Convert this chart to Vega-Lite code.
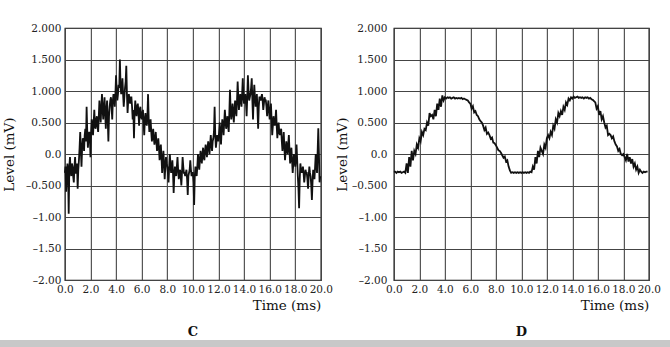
{
  "$schema": "https://vega.github.io/schema/vega-lite/v6.json",
  "padding": {"left": 0, "top": 22, "right": 0, "bottom": 0},
  "background": "white",
  "datasets": {
    "C": [
      {"t":0.0,"v":-0.3},{"t":0.1,"v":-0.6},{"t":0.2,"v":-0.15},{"t":0.3,"v":-0.95},{"t":0.4,"v":-0.05},{"t":0.5,"v":-0.35},{"t":0.6,"v":-0.2},{"t":0.7,"v":-0.45},{"t":0.8,"v":-0.05},{"t":0.9,"v":-0.3},
      {"t":1.0,"v":-0.55},{"t":1.1,"v":-0.1},{"t":1.2,"v":0.35},{"t":1.3,"v":-0.2},{"t":1.4,"v":0.25},{"t":1.5,"v":0.05},{"t":1.6,"v":0.4},{"t":1.7,"v":0.75},{"t":1.8,"v":0.1},{"t":1.9,"v":0.35},
      {"t":2.0,"v":-0.05},{"t":2.1,"v":0.55},{"t":2.2,"v":0.3},{"t":2.3,"v":0.7},{"t":2.4,"v":0.4},{"t":2.5,"v":0.6},{"t":2.6,"v":0.35},{"t":2.7,"v":0.85},{"t":2.8,"v":0.5},{"t":2.9,"v":0.95},
      {"t":3.0,"v":0.55},{"t":3.1,"v":0.9},{"t":3.2,"v":0.4},{"t":3.3,"v":0.85},{"t":3.4,"v":0.2},{"t":3.5,"v":0.75},{"t":3.6,"v":0.9},{"t":3.7,"v":0.55},{"t":3.8,"v":0.95},{"t":3.9,"v":0.75},
      {"t":4.0,"v":1.25},{"t":4.1,"v":0.85},{"t":4.2,"v":1.1},{"t":4.3,"v":1.5},{"t":4.4,"v":0.95},{"t":4.5,"v":1.2},{"t":4.6,"v":0.75},{"t":4.7,"v":1.05},{"t":4.8,"v":1.4},{"t":4.9,"v":0.65},
      {"t":5.0,"v":0.95},{"t":5.1,"v":0.8},{"t":5.2,"v":0.9},{"t":5.3,"v":0.55},{"t":5.4,"v":0.25},{"t":5.5,"v":0.85},{"t":5.6,"v":0.6},{"t":5.7,"v":0.8},{"t":5.8,"v":0.45},{"t":5.9,"v":0.75},
      {"t":6.0,"v":0.55},{"t":6.1,"v":0.7},{"t":6.2,"v":0.3},{"t":6.3,"v":0.65},{"t":6.4,"v":0.45},{"t":6.5,"v":0.95},{"t":6.6,"v":0.35},{"t":6.7,"v":0.55},{"t":6.8,"v":0.2},{"t":6.9,"v":0.4},
      {"t":7.0,"v":0.15},{"t":7.1,"v":0.35},{"t":7.2,"v":0.05},{"t":7.3,"v":0.25},{"t":7.4,"v":-0.1},{"t":7.5,"v":0.15},{"t":7.6,"v":-0.3},{"t":7.7,"v":0.05},{"t":7.8,"v":-0.4},{"t":7.9,"v":-0.05},
      {"t":8.0,"v":-0.2},{"t":8.1,"v":-0.45},{"t":8.2,"v":0.0},{"t":8.3,"v":-0.3},{"t":8.4,"v":-0.1},{"t":8.5,"v":-0.62},{"t":8.6,"v":-0.2},{"t":8.7,"v":-0.35},{"t":8.8,"v":-0.05},{"t":8.9,"v":-0.4},
      {"t":9.0,"v":-0.25},{"t":9.1,"v":-0.5},{"t":9.2,"v":-0.05},{"t":9.3,"v":-0.3},{"t":9.4,"v":-0.35},{"t":9.5,"v":-0.25},{"t":9.6,"v":-0.65},{"t":9.7,"v":-0.3},{"t":9.8,"v":-0.1},{"t":9.9,"v":-0.35},
      {"t":10.0,"v":-0.3},{"t":10.1,"v":-0.81},{"t":10.2,"v":-0.2},{"t":10.3,"v":-0.35},{"t":10.4,"v":0.0},{"t":10.5,"v":-0.25},{"t":10.6,"v":0.05},{"t":10.7,"v":-0.15},{"t":10.8,"v":0.1},{"t":10.9,"v":-0.1},
      {"t":11.0,"v":0.15},{"t":11.1,"v":-0.05},{"t":11.2,"v":0.2},{"t":11.3,"v":0.0},{"t":11.4,"v":0.3},{"t":11.5,"v":0.05},{"t":11.6,"v":0.25},{"t":11.7,"v":0.75},{"t":11.8,"v":0.1},{"t":11.9,"v":0.3},
      {"t":12.0,"v":0.2},{"t":12.1,"v":0.5},{"t":12.2,"v":0.15},{"t":12.3,"v":0.55},{"t":12.4,"v":0.3},{"t":12.5,"v":0.7},{"t":12.6,"v":0.4},{"t":12.7,"v":0.6},{"t":12.8,"v":0.35},{"t":12.9,"v":1.02},
      {"t":13.0,"v":0.55},{"t":13.1,"v":0.8},{"t":13.2,"v":0.5},{"t":13.3,"v":0.85},{"t":13.4,"v":0.6},{"t":13.5,"v":1.15},{"t":13.6,"v":0.7},{"t":13.7,"v":0.95},{"t":13.8,"v":0.75},{"t":13.9,"v":1.2},
      {"t":14.0,"v":0.8},{"t":14.1,"v":0.95},{"t":14.2,"v":0.6},{"t":14.3,"v":1.25},{"t":14.4,"v":0.85},{"t":14.5,"v":0.95},{"t":14.6,"v":1.2},{"t":14.7,"v":0.55},{"t":14.8,"v":1.1},{"t":14.9,"v":0.75},
      {"t":15.0,"v":0.95},{"t":15.1,"v":0.4},{"t":15.2,"v":0.9},{"t":15.3,"v":0.85},{"t":15.4,"v":0.95},{"t":15.5,"v":0.7},{"t":15.6,"v":0.9},{"t":15.7,"v":0.85},{"t":15.8,"v":0.6},{"t":15.9,"v":0.85},
      {"t":16.0,"v":0.55},{"t":16.1,"v":0.8},{"t":16.2,"v":0.3},{"t":16.3,"v":0.6},{"t":16.4,"v":0.45},{"t":16.5,"v":0.7},{"t":16.6,"v":0.25},{"t":16.7,"v":0.5},{"t":16.8,"v":0.3},{"t":16.9,"v":0.4},
      {"t":17.0,"v":0.05},{"t":17.1,"v":0.35},{"t":17.2,"v":-0.1},{"t":17.3,"v":0.2},{"t":17.4,"v":0.0},{"t":17.5,"v":0.3},{"t":17.6,"v":-0.15},{"t":17.7,"v":0.1},{"t":17.8,"v":-0.3},{"t":17.9,"v":0.0},
      {"t":18.0,"v":-0.2},{"t":18.1,"v":0.15},{"t":18.2,"v":-0.35},{"t":18.3,"v":-0.86},{"t":18.4,"v":-0.15},{"t":18.5,"v":-0.3},{"t":18.6,"v":-0.2},{"t":18.7,"v":-0.45},{"t":18.8,"v":-0.25},{"t":18.9,"v":-0.3},
      {"t":19.0,"v":-0.55},{"t":19.1,"v":-0.2},{"t":19.2,"v":-0.35},{"t":19.3,"v":-0.73},{"t":19.4,"v":-0.25},{"t":19.5,"v":-0.4},{"t":19.6,"v":0.0},{"t":19.7,"v":-0.3},{"t":19.8,"v":0.41},{"t":19.9,"v":-0.45},
      {"t":0.05,"v":-0.2},{"t":0.15,"v":-0.35},{"t":0.25,"v":-0.3},{"t":0.35,"v":-0.2},{"t":0.45,"v":-0.25},{"t":0.55,"v":-0.15},{"t":0.65,"v":-0.35},{"t":0.75,"v":-0.2},{"t":0.85,"v":-0.3},{"t":0.95,"v":-0.15},
      {"t":1.05,"v":-0.25},{"t":1.15,"v":0.1},{"t":1.25,"v":0.05},{"t":1.35,"v":0.1},{"t":1.45,"v":0.2},{"t":1.55,"v":0.3},{"t":1.65,"v":0.2},{"t":1.75,"v":0.35},{"t":1.85,"v":0.25},{"t":1.95,"v":0.3},
      {"t":2.05,"v":0.35},{"t":2.15,"v":0.45},{"t":2.25,"v":0.5},{"t":2.35,"v":0.45},{"t":2.45,"v":0.55},{"t":2.55,"v":0.45},{"t":2.65,"v":0.6},{"t":2.75,"v":0.65},{"t":2.85,"v":0.75},{"t":2.95,"v":0.7},
      {"t":3.05,"v":0.75},{"t":3.15,"v":0.65},{"t":3.25,"v":0.7},{"t":3.35,"v":0.55},{"t":3.45,"v":0.6},{"t":3.55,"v":0.85},{"t":3.65,"v":0.75},{"t":3.75,"v":0.85},{"t":3.85,"v":0.9},{"t":3.95,"v":0.95},
      {"t":4.05,"v":1.0},{"t":4.15,"v":0.95},{"t":4.25,"v":1.05},{"t":4.35,"v":1.1},{"t":4.45,"v":1.0},{"t":4.55,"v":0.95},{"t":4.65,"v":0.9},{"t":4.75,"v":1.15},{"t":4.85,"v":0.95},{"t":4.95,"v":0.85},
      {"t":5.05,"v":0.85},{"t":5.15,"v":0.9},{"t":5.25,"v":0.75},{"t":5.35,"v":0.7},{"t":5.45,"v":0.65},{"t":5.55,"v":0.7},{"t":5.65,"v":0.75},{"t":5.75,"v":0.65},{"t":5.85,"v":0.7},{"t":5.95,"v":0.6},
      {"t":6.05,"v":0.65},{"t":6.15,"v":0.5},{"t":6.25,"v":0.55},{"t":6.35,"v":0.5},{"t":6.45,"v":0.6},{"t":6.55,"v":0.55},{"t":6.65,"v":0.45},{"t":6.75,"v":0.35},{"t":6.85,"v":0.3},{"t":6.95,"v":0.25},
      {"t":7.05,"v":0.25},{"t":7.15,"v":0.2},{"t":7.25,"v":0.15},{"t":7.35,"v":0.1},{"t":7.45,"v":0.05},{"t":7.55,"v":-0.05},{"t":7.65,"v":-0.1},{"t":7.75,"v":-0.15},{"t":7.85,"v":-0.2},{"t":7.95,"v":-0.15},
      {"t":8.05,"v":-0.3},{"t":8.15,"v":-0.2},{"t":8.25,"v":-0.15},{"t":8.35,"v":-0.25},{"t":8.45,"v":-0.3},{"t":8.55,"v":-0.35},{"t":8.65,"v":-0.25},{"t":8.75,"v":-0.2},{"t":8.85,"v":-0.25},{"t":8.95,"v":-0.3},
      {"t":9.05,"v":-0.35},{"t":9.15,"v":-0.3},{"t":9.25,"v":-0.2},{"t":9.35,"v":-0.3},{"t":9.45,"v":-0.3},{"t":9.55,"v":-0.4},{"t":9.65,"v":-0.35},{"t":9.75,"v":-0.25},{"t":9.85,"v":-0.25},{"t":9.95,"v":-0.3},
      {"t":10.05,"v":-0.45},{"t":10.15,"v":-0.35},{"t":10.25,"v":-0.3},{"t":10.35,"v":-0.2},{"t":10.45,"v":-0.1},{"t":10.55,"v":-0.1},{"t":10.65,"v":-0.05},{"t":10.75,"v":0.0},{"t":10.85,"v":-0.05},{"t":10.95,"v":0.05},
      {"t":11.05,"v":0.05},{"t":11.15,"v":0.1},{"t":11.25,"v":0.1},{"t":11.35,"v":0.15},{"t":11.45,"v":0.15},{"t":11.55,"v":0.2},{"t":11.65,"v":0.35},{"t":11.75,"v":0.3},{"t":11.85,"v":0.2},{"t":11.95,"v":0.25},
      {"t":12.05,"v":0.35},{"t":12.15,"v":0.3},{"t":12.25,"v":0.4},{"t":12.35,"v":0.45},{"t":12.45,"v":0.5},{"t":12.55,"v":0.55},{"t":12.65,"v":0.5},{"t":12.75,"v":0.45},{"t":12.85,"v":0.65},{"t":12.95,"v":0.7},
      {"t":13.05,"v":0.65},{"t":13.15,"v":0.65},{"t":13.25,"v":0.7},{"t":13.35,"v":0.7},{"t":13.45,"v":0.85},{"t":13.55,"v":0.9},{"t":13.65,"v":0.85},{"t":13.75,"v":0.85},{"t":13.85,"v":0.95},{"t":13.95,"v":0.9},
      {"t":14.05,"v":0.85},{"t":14.15,"v":0.8},{"t":14.25,"v":0.9},{"t":14.35,"v":1.0},{"t":14.45,"v":0.9},{"t":14.55,"v":1.05},{"t":14.65,"v":0.85},{"t":14.75,"v":0.9},{"t":14.85,"v":0.9},{"t":14.95,"v":0.85},
      {"t":15.05,"v":0.7},{"t":15.15,"v":0.75},{"t":15.25,"v":0.9},{"t":15.35,"v":0.9},{"t":15.45,"v":0.85},{"t":15.55,"v":0.8},{"t":15.65,"v":0.85},{"t":15.75,"v":0.75},{"t":15.85,"v":0.75},{"t":15.95,"v":0.7},
      {"t":16.05,"v":0.65},{"t":16.15,"v":0.55},{"t":16.25,"v":0.45},{"t":16.35,"v":0.5},{"t":16.45,"v":0.55},{"t":16.55,"v":0.45},{"t":16.65,"v":0.4},{"t":16.75,"v":0.35},{"t":16.85,"v":0.35},{"t":16.95,"v":0.2},
      {"t":17.05,"v":0.2},{"t":17.15,"v":0.1},{"t":17.25,"v":0.05},{"t":17.35,"v":0.1},{"t":17.45,"v":0.15},{"t":17.55,"v":0.05},{"t":17.65,"v":0.0},{"t":17.75,"v":-0.1},{"t":17.85,"v":-0.15},{"t":17.95,"v":-0.1},
      {"t":18.05,"v":-0.05},{"t":18.15,"v":-0.1},{"t":18.25,"v":-0.55},{"t":18.35,"v":-0.4},{"t":18.45,"v":-0.25},{"t":18.55,"v":-0.25},{"t":18.65,"v":-0.3},{"t":18.75,"v":-0.35},{"t":18.85,"v":-0.3},{"t":18.95,"v":-0.4},
      {"t":19.05,"v":-0.35},{"t":19.15,"v":-0.3},{"t":19.25,"v":-0.5},{"t":19.35,"v":-0.45},{"t":19.45,"v":-0.3},{"t":19.55,"v":-0.2},{"t":19.65,"v":-0.15},{"t":19.75,"v":0.05},{"t":19.85,"v":0.0},{"t":19.95,"v":-0.35}
    ],
    "D": [
      {"t":0.0,"v":-0.28},{"t":0.1,"v":-0.28},{"t":0.2,"v":-0.3},{"t":0.3,"v":-0.28},{"t":0.4,"v":-0.29},{"t":0.5,"v":-0.28},{"t":0.6,"v":-0.3},{"t":0.7,"v":-0.29},{"t":0.8,"v":-0.28},{"t":0.9,"v":-0.3},
      {"t":1.0,"v":-0.15},{"t":1.1,"v":-0.3},{"t":1.2,"v":-0.05},{"t":1.3,"v":-0.2},{"t":1.4,"v":0.05},{"t":1.5,"v":-0.1},{"t":1.6,"v":0.05},{"t":1.7,"v":0.0},{"t":1.8,"v":0.15},{"t":1.9,"v":0.1},
      {"t":2.0,"v":0.25},{"t":2.1,"v":0.2},{"t":2.2,"v":0.35},{"t":2.3,"v":0.3},{"t":2.4,"v":0.4},{"t":2.5,"v":0.38},{"t":2.6,"v":0.5},{"t":2.7,"v":0.45},{"t":2.8,"v":0.65},{"t":2.9,"v":0.6},
      {"t":3.0,"v":0.62},{"t":3.1,"v":0.55},{"t":3.2,"v":0.7},{"t":3.3,"v":0.6},{"t":3.4,"v":0.8},{"t":3.5,"v":0.7},{"t":3.6,"v":0.88},{"t":3.7,"v":0.75},{"t":3.8,"v":0.93},{"t":3.9,"v":0.85},
      {"t":4.0,"v":0.9},{"t":4.1,"v":0.88},{"t":4.2,"v":0.9},{"t":4.3,"v":0.89},{"t":4.4,"v":0.9},{"t":4.5,"v":0.88},{"t":4.6,"v":0.89},{"t":4.7,"v":0.9},{"t":4.8,"v":0.88},{"t":4.9,"v":0.89},
      {"t":5.0,"v":0.88},{"t":5.1,"v":0.89},{"t":5.2,"v":0.88},{"t":5.3,"v":0.89},{"t":5.4,"v":0.87},{"t":5.5,"v":0.88},{"t":5.6,"v":0.87},{"t":5.7,"v":0.86},{"t":5.8,"v":0.85},{"t":5.9,"v":0.82},
      {"t":6.0,"v":0.8},{"t":6.1,"v":0.72},{"t":6.2,"v":0.76},{"t":6.3,"v":0.66},{"t":6.4,"v":0.68},{"t":6.5,"v":0.62},{"t":6.6,"v":0.6},{"t":6.7,"v":0.55},{"t":6.8,"v":0.52},{"t":6.9,"v":0.5},
      {"t":7.0,"v":0.45},{"t":7.1,"v":0.38},{"t":7.2,"v":0.42},{"t":7.3,"v":0.32},{"t":7.4,"v":0.34},{"t":7.5,"v":0.3},{"t":7.6,"v":0.24},{"t":7.7,"v":0.26},{"t":7.8,"v":0.18},{"t":7.9,"v":0.17},
      {"t":8.0,"v":0.14},{"t":8.1,"v":0.1},{"t":8.2,"v":0.06},{"t":8.3,"v":0.05},{"t":8.4,"v":0.02},{"t":8.5,"v":-0.02},{"t":8.6,"v":-0.06},{"t":8.7,"v":-0.04},{"t":8.8,"v":-0.12},{"t":8.9,"v":-0.1},
      {"t":9.0,"v":-0.2},{"t":9.1,"v":-0.26},{"t":9.2,"v":-0.3},{"t":9.3,"v":-0.29},{"t":9.4,"v":-0.3},{"t":9.5,"v":-0.29},{"t":9.6,"v":-0.3},{"t":9.7,"v":-0.29},{"t":9.8,"v":-0.3},{"t":9.9,"v":-0.29},
      {"t":10.0,"v":-0.3},{"t":10.1,"v":-0.29},{"t":10.2,"v":-0.3},{"t":10.3,"v":-0.29},{"t":10.4,"v":-0.3},{"t":10.5,"v":-0.29},{"t":10.6,"v":-0.3},{"t":10.7,"v":-0.28},{"t":10.8,"v":-0.29},{"t":10.9,"v":-0.2},
      {"t":11.0,"v":-0.25},{"t":11.1,"v":-0.05},{"t":11.2,"v":-0.15},{"t":11.3,"v":0.05},{"t":11.4,"v":-0.05},{"t":11.5,"v":0.1},{"t":11.6,"v":0.05},{"t":11.7,"v":0.0},{"t":11.8,"v":0.15},{"t":11.9,"v":0.1},
      {"t":12.0,"v":0.25},{"t":12.1,"v":0.3},{"t":12.2,"v":0.25},{"t":12.3,"v":0.35},{"t":12.4,"v":0.3},{"t":12.5,"v":0.45},{"t":12.6,"v":0.4},{"t":12.7,"v":0.55},{"t":12.8,"v":0.5},{"t":12.9,"v":0.65},
      {"t":13.0,"v":0.6},{"t":13.1,"v":0.68},{"t":13.2,"v":0.62},{"t":13.3,"v":0.75},{"t":13.4,"v":0.7},{"t":13.5,"v":0.82},{"t":13.6,"v":0.78},{"t":13.7,"v":0.88},{"t":13.8,"v":0.85},{"t":13.9,"v":0.9},
      {"t":14.0,"v":0.88},{"t":14.1,"v":0.91},{"t":14.2,"v":0.89},{"t":14.3,"v":0.9},{"t":14.4,"v":0.91},{"t":14.5,"v":0.89},{"t":14.6,"v":0.9},{"t":14.7,"v":0.89},{"t":14.8,"v":0.9},{"t":14.9,"v":0.88},
      {"t":15.0,"v":0.9},{"t":15.1,"v":0.89},{"t":15.2,"v":0.9},{"t":15.3,"v":0.88},{"t":15.4,"v":0.89},{"t":15.5,"v":0.87},{"t":15.6,"v":0.86},{"t":15.7,"v":0.84},{"t":15.8,"v":0.82},{"t":15.9,"v":0.72},
      {"t":16.0,"v":0.76},{"t":16.1,"v":0.62},{"t":16.2,"v":0.68},{"t":16.3,"v":0.55},{"t":16.4,"v":0.6},{"t":16.5,"v":0.5},{"t":16.6,"v":0.42},{"t":16.7,"v":0.45},{"t":16.8,"v":0.3},{"t":16.9,"v":0.32},
      {"t":17.0,"v":0.3},{"t":17.1,"v":0.25},{"t":17.2,"v":0.28},{"t":17.3,"v":0.2},{"t":17.4,"v":0.15},{"t":17.5,"v":0.12},{"t":17.6,"v":0.05},{"t":17.7,"v":0.08},{"t":17.8,"v":0.0},{"t":17.9,"v":-0.02},
      {"t":18.0,"v":0.0},{"t":18.1,"v":-0.05},{"t":18.2,"v":-0.1},{"t":18.3,"v":0.0},{"t":18.4,"v":-0.12},{"t":18.5,"v":-0.05},{"t":18.6,"v":-0.15},{"t":18.7,"v":-0.08},{"t":18.8,"v":-0.2},{"t":18.9,"v":-0.15},
      {"t":19.0,"v":-0.25},{"t":19.1,"v":-0.2},{"t":19.2,"v":-0.3},{"t":19.3,"v":-0.25},{"t":19.4,"v":-0.28},{"t":19.5,"v":-0.3},{"t":19.6,"v":-0.28},{"t":19.7,"v":-0.29},{"t":19.8,"v":-0.28},{"t":19.9,"v":-0.28}
    ]
  },
  "vconcat": [
    {
      "hconcat": [
        {
          "width": 256, "height": 252,
          "data": {"name": "C"},
          "title": {"text": "C", "orient": "bottom", "anchor": "middle", "fontSize": 13, "fontWeight": "bold", "font": "DejaVu Serif", "offset": 14, "color": "#111"},
          "mark": {"type": "line", "color": "#111", "strokeWidth": 1.8},
          "encoding": {
            "x": {"field": "t", "type": "quantitative", "scale": {"domain": [0, 20], "nice": false}, "axis": {"values": [0,2,4,6,8,10,12,14,16,18,20], "format": ".1f", "title": "Time (ms)", "titleAnchor": "end", "labelOverlap": false, "labelFlush": false}},
            "y": {"field": "v", "type": "quantitative", "scale": {"domain": [-2, 2], "nice": false}, "axis": {"values": [-2,-1.5,-1,-0.5,0,0.5,1,1.5,2], "labelExpr": "datum.value == 2 ? '2.000' : datum.value == 1.5 ? '1.500' : datum.value == 1 ? '1.000' : datum.value == 0.5 ? '0.500' : datum.value == 0 ? '0.0' : datum.value == -0.5 ? '\u20130.500' : datum.value == -1 ? '\u20131.00' : datum.value == -1.5 ? '\u20131.50' : '\u20132.00'", "title": "Level (mV)", "labelFlush": false}}
          }
        },
        {
          "width": 255, "height": 252,
          "data": {"name": "D"},
          "title": {"text": "D", "orient": "bottom", "anchor": "middle", "fontSize": 13, "fontWeight": "bold", "font": "DejaVu Serif", "offset": 14, "color": "#111"},
          "mark": {"type": "line", "color": "#111", "strokeWidth": 1.8},
          "encoding": {
            "x": {"field": "t", "type": "quantitative", "scale": {"domain": [0, 20], "nice": false}, "axis": {"values": [0,2,4,6,8,10,12,14,16,18,20], "format": ".1f", "title": "Time (ms)", "titleAnchor": "end", "labelOverlap": false, "labelFlush": false}},
            "y": {"field": "v", "type": "quantitative", "scale": {"domain": [-2, 2], "nice": false}, "axis": {"values": [-2,-1.5,-1,-0.5,0,0.5,1,1.5,2], "labelExpr": "datum.value == 2 ? '2.000' : datum.value == 1.5 ? '1.500' : datum.value == 1 ? '1.000' : datum.value == 0.5 ? '0.500' : datum.value == 0 ? '0.0' : datum.value == -0.5 ? '\u20130.500' : datum.value == -1 ? '\u20131.00' : datum.value == -1.5 ? '\u20131.50' : '\u20132.00'", "title": "Level (mV)", "labelFlush": false, "labelPadding": 7, "titlePadding": 2}}
          }
        }
      ],
      "spacing": 1
    },
    {
      "width": 726, "height": 9,
      "data": {"values": [{}]},
      "mark": {"type": "text", "text": ""},
      "view": {"fill": "#c8c8c8", "stroke": null}
    }
  ],
  "center": true,
  "spacing": -8,
  "config": {
    "font": "DejaVu Serif",
    "view": {"stroke": "#111", "strokeWidth": 1.2},
    "axis": {
      "grid": true, "gridColor": "#444", "gridWidth": 1.1,
      "domain": false, "ticks": false,
      "labelFont": "DejaVu Serif", "labelFontSize": 10.5, "labelColor": "#222", "labelPadding": 4,
      "titleFont": "DejaVu Serif", "titleFontWeight": "normal", "titleFontSize": 13.5, "titleColor": "#111"
    },
    "axisY": {"titlePadding": 9},
    "axisX": {"titlePadding": 4}
  }
}
